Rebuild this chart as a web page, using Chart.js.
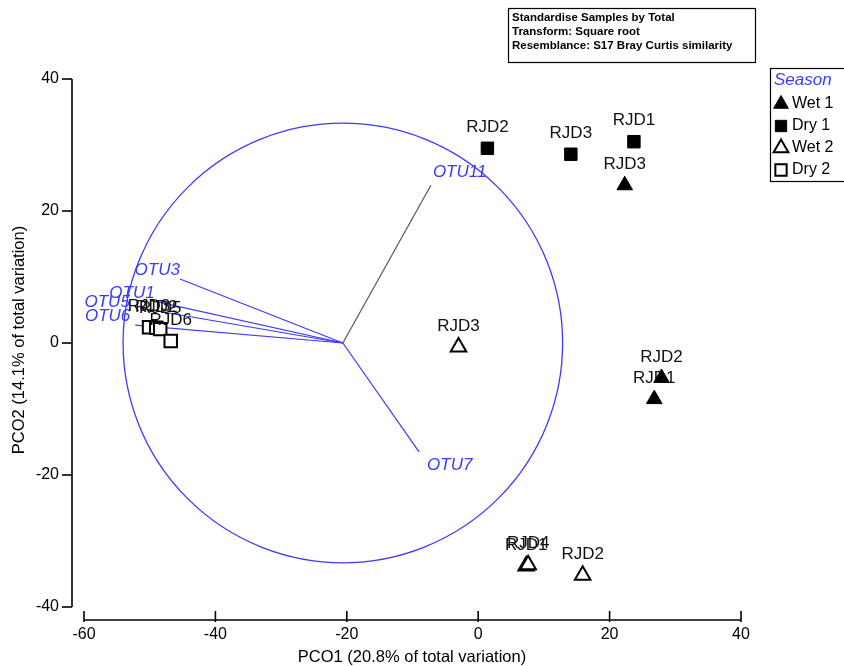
<!DOCTYPE html>
<html>

<head>
    <meta charset="UTF-8">
    <title>PCO ordination</title>
    <script src="https://cdn.jsdelivr.net/npm/chart.js@4.4.1/dist/chart.umd.min.js"></script>
    <style>
        body {
            margin: 0;
            background: #fff;
        }

        .wrap {
            position: relative;
            width: 844px;
            height: 666px;
        }
    </style>
</head>

<body>
    <div class="wrap"><canvas id="pco"></canvas></div>

    <script>
        // sample scores on PCO1 / PCO2, one set per season
        const wet1Names = ["RJD3", "RJD2", "RJD1"];
        const wet1X = [22.3, 27.9, 26.8];
        const wet1Y = [23.9, -5.3, -8.5];

        const dry1Names = ["RJD2", "RJD3", "RJD1"];
        const dry1X = [1.4, 14.1, 23.7];
        const dry1Y = [29.5, 28.6, 30.5];

        const wet2Names = ["RJD3", "RJD1", "RJD4", "RJD2"];
        const wet2X = [-3.0, 7.3, 7.6, 15.9];
        const wet2Y = [-0.6, -33.8, -33.6, -35.2];

        const dry2Names = ["RJD3", "RJD2", "RJD5", "RJD6"];
        const dry2X = [-50.1, -49.0, -48.4, -46.8];
        const dry2Y = [2.4, 2.3, 2.1, 0.3];

        // vector overlay (OTU correlations), drawn from the circle centre
        const otuNames = ["OTU11", "OTU7", "OTU3", "OTU1", "OTU5", "OTU6"];
        const otuX = [-7.2, -9.0, -45.4, -50.0, -51.5, -52.2];
        const otuY = [23.9, -16.5, 9.7, 6.5, 5.3, 2.7];
        const circleCentre = [-20.6, 0];
        const circleRadius = 33.3;

        const xTicks = [-60, -40, -20, 0, 20, 40];
        const yTicks = [-40, -20, 0, 20, 40];

        const infoLines = ["Standardise Samples by Total", "Transform: Square root", "Resemblance: S17 Bray Curtis similarity"];

        const FONT = "'Liberation Sans', Arial, sans-serif";
        const BLUE = "#3a3aff";

        // label placement next to each vector tip (pixels)
        const otuLabelStyle = {
            OTU11: { dx: 2, dy: -13, align: "left" },
            OTU7: { dx: 8, dy: 13, align: "left" },
            OTU3: { dx: 0, dy: -9, align: "right" },
            OTU1: { dx: 5, dy: -7, align: "right" },
            OTU5: { dx: -10, dy: -6, align: "right" },
            OTU6: { dx: -5, dy: -9, align: "right" }
        };

        function pts(xs, ys) {
            return xs.map((x, i) => ({ x: x, y: ys[i] }));
        }

        const seasons = [
            { label: "Wet 1", names: wet1Names, data: pts(wet1X, wet1Y), pointStyle: "triangle", filled: true },
            { label: "Dry 1", names: dry1Names, data: pts(dry1X, dry1Y), pointStyle: "rect", filled: true },
            { label: "Wet 2", names: wet2Names, data: pts(wet2X, wet2Y), pointStyle: "triangle", filled: false },
            { label: "Dry 2", names: dry2Names, data: pts(dry2X, dry2Y), pointStyle: "rect", filled: false }
        ];

        const datasets = seasons.map(s => ({
            label: s.label,
            names: s.names,
            data: s.data,
            pointStyle: s.pointStyle,
            pointRadius: s.pointStyle === "rect" ? 8.8 : 9,
            pointBorderWidth: s.filled ? 1 : 2,
            pointBackgroundColor: s.filled ? "#000" : "#fff",
            pointBorderColor: "#000",
            showLine: false
        }));

        // circle + vectors go underneath the samples
        const biplot = {
            id: "biplot",
            beforeDatasetsDraw(chart) {
                const ctx = chart.ctx;
                const xs = chart.scales.x, ys = chart.scales.y;
                const cx = xs.getPixelForValue(circleCentre[0]);
                const cy = ys.getPixelForValue(circleCentre[1]);
                const r = ys.getPixelForValue(0) - ys.getPixelForValue(circleRadius);
                ctx.save();
                ctx.strokeStyle = BLUE;
                ctx.lineWidth = 1.3;
                ctx.beginPath();
                ctx.arc(cx, cy, r, 0, Math.PI * 2);
                ctx.stroke();

                ctx.font = "italic 17px " + FONT;
                ctx.textBaseline = "middle";
                otuNames.forEach((n, i) => {
                    const px = xs.getPixelForValue(otuX[i]);
                    const py = ys.getPixelForValue(otuY[i]);
                    ctx.strokeStyle = n === "OTU11" ? "#555" : BLUE;
                    ctx.lineWidth = 1.2;
                    ctx.beginPath();
                    ctx.moveTo(cx, cy);
                    ctx.lineTo(px, py);
                    ctx.stroke();
                    const st = otuLabelStyle[n];
                    ctx.fillStyle = BLUE;
                    ctx.textAlign = st.align;
                    ctx.fillText(n, px + st.dx, py + st.dy);
                });
                ctx.restore();
            },
            afterDatasetsDraw(chart) {
                // sample names sit just above their markers
                const ctx = chart.ctx;
                ctx.save();
                ctx.font = "17px " + FONT;
                ctx.fillStyle = "#111";
                ctx.textAlign = "center";
                ctx.textBaseline = "middle";
                chart.data.datasets.forEach((ds, di) => {
                    const meta = chart.getDatasetMeta(di);
                    meta.data.forEach((el, i) => {
                        ctx.fillText(ds.names[i], el.x, el.y - 21);
                    });
                });
                ctx.restore();
            }
        };

        // detached axes, info box and season key
        const frame = {
            id: "frame",
            afterDraw(chart) {
                const ctx = chart.ctx;
                const xs = chart.scales.x, ys = chart.scales.y;
                const axisX = 72;
                const axisY = 620;
                ctx.save();
                ctx.strokeStyle = "#000";
                ctx.fillStyle = "#000";
                ctx.lineWidth = 1.6;

                // y axis
                ctx.beginPath();
                ctx.moveTo(axisX, ys.getPixelForValue(40));
                ctx.lineTo(axisX, ys.getPixelForValue(-40));
                ctx.stroke();
                ctx.font = "16px " + FONT;
                ctx.textAlign = "right";
                ctx.textBaseline = "middle";
                yTicks.forEach(v => {
                    const py = ys.getPixelForValue(v);
                    ctx.beginPath();
                    ctx.moveTo(axisX - 10, py);
                    ctx.lineTo(axisX, py);
                    ctx.stroke();
                    ctx.fillText(String(v), axisX - 13, py);
                });

                // x axis
                ctx.beginPath();
                ctx.moveTo(xs.getPixelForValue(-60), axisY);
                ctx.lineTo(xs.getPixelForValue(40), axisY);
                ctx.stroke();
                ctx.textAlign = "center";
                ctx.textBaseline = "top";
                xTicks.forEach(v => {
                    const px = xs.getPixelForValue(v);
                    ctx.beginPath();
                    ctx.moveTo(px, axisY - 9);
                    ctx.lineTo(px, axisY + 2);
                    ctx.stroke();
                    ctx.fillText(String(v), px, axisY + 7);
                });

                // axis titles
                ctx.font = "16.5px " + FONT;
                ctx.textBaseline = "middle";
                ctx.fillText("PCO1 (20.8% of total variation)", 412, 657);
                ctx.save();
                ctx.translate(19, 340);
                ctx.rotate(-Math.PI / 2);
                ctx.fillText("PCO2 (14.1% of total variation)", 0, 0);
                ctx.restore();

                // info box
                ctx.lineWidth = 1.2;
                ctx.strokeRect(508.5, 8.5, 247, 54);
                ctx.font = "bold 11.5px " + FONT;
                ctx.textAlign = "left";
                infoLines.forEach((t, i) => ctx.fillText(t, 512, 18 + i * 14));

                // season key
                ctx.strokeRect(770.5, 68.5, 80, 113);
                ctx.font = "italic 17px " + FONT;
                ctx.fillStyle = BLUE;
                ctx.fillText("Season", 774, 80);
                ctx.font = "16px " + FONT;
                chart.data.datasets.forEach((ds, i) => {
                    const ky = 104 + i * 22;
                    ctx.fillStyle = "#000";
                    ctx.fillText(ds.label, 792, ky);
                    ctx.fillStyle = ds.pointBackgroundColor;
                    ctx.strokeStyle = "#000";
                    ctx.lineWidth = ds.pointBorderWidth;
                    Chart.helpers.drawPoint(ctx, {
                        pointStyle: ds.pointStyle,
                        radius: ds.pointStyle === "rect" ? 8 : 8.5,
                        rotation: 0,
                        borderWidth: ds.pointBorderWidth
                    }, 781, ky);
                });
                ctx.restore();
            }
        };

        new Chart(document.getElementById("pco"), {
            type: "scatter",
            data: { datasets: datasets },
            options: {
                responsive: true,
                maintainAspectRatio: false,
                animation: false,
                layout: { padding: { left: 84, right: 103, top: 79, bottom: 59 } },
                scales: {
                    x: { type: "linear", min: -60, max: 40, display: false },
                    y: { type: "linear", min: -40, max: 40, display: false }
                },
                plugins: {
                    legend: { display: false },
                    tooltip: { enabled: false }
                }
            },
            plugins: [biplot, frame]
        });
    </script>
</body>

</html>
